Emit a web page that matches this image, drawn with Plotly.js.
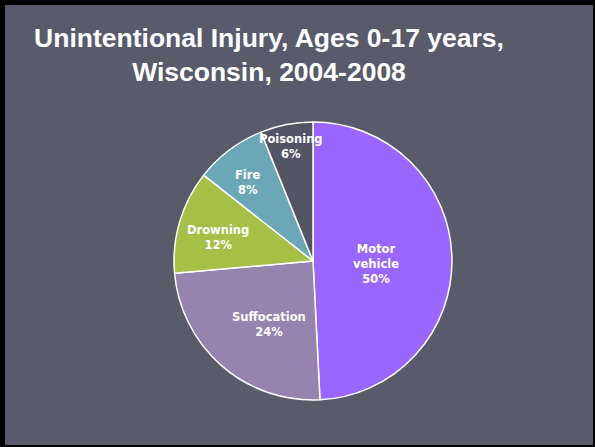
<!DOCTYPE html>
<html>
<head>
<meta charset="utf-8">
<script src="https://cdn.plot.ly/plotly-3.0.1.min.js"></script>
<style>
  html, body { margin: 0; padding: 0; background: #000; width: 595px; height: 447px; overflow: hidden; }
  #chart { position: absolute; left: 5px; top: 5px; width: 588px; height: 440px; }
</style>
</head>
<body>
<div id="chart"></div>
<script>
// Data
const categories = ["Motor<br>vehicle", "Suffocation", "Drowning", "Fire", "Poisoning"];
const shares = [49.2, 24.4, 12.0, 8.3, 6.1];
const shownPercent = ["50%", "24%", "12%", "8%", "6%"];

// Styles
const sliceColors = ["#9966ff", "#9484ae", "#a6bf45", "#6ba7b7", "#545564"];
const labelRadiusFrac = [0.45, 0.54, 0.71, 0.75, 0.84];
const labelShiftX = [0, 5, 0, -3, 0];
const labelShiftY = [-5, -7, -5, -5, 0];

const W = 588, H = 440;
const pieDomainX = [0.2874, 0.7602];
const pieDomainY = [0.1023, 0.734];

// pie geometry in px (paper coordinates)
const dxPx = (pieDomainX[1] - pieDomainX[0]) * W;
const dyPx = (pieDomainY[1] - pieDomainY[0]) * H;
const rPx = Math.min(dxPx, dyPx) / 2;
const cxPx = (pieDomainX[0] + pieDomainX[1]) / 2 * W;
const cyPx = (pieDomainY[0] + pieDomainY[1]) / 2 * H; // from bottom

const total = shares.reduce((a, b) => a + b, 0);
let cum = 0;
const annotations = shares.map((v, i) => {
  const mid = (cum + v / 2) / total * 2 * Math.PI;
  cum += v;
  const r = rPx * labelRadiusFrac[i];
  return {
    xref: "paper", yref: "paper",
    x: (cxPx + r * Math.sin(mid)) / W,
    y: (cyPx + r * Math.cos(mid)) / H,
    xshift: labelShiftX[i], yshift: labelShiftY[i],
    xanchor: "center", yanchor: "middle",
    showarrow: false,
    align: "center",
    text: "<b>" + categories[i] + "<br>" + shownPercent[i] + "</b>",
    font: { family: "DejaVu Sans", size: 11.5, color: "#ffffff" }
  };
});

const trace = {
  type: "pie",
  labels: categories,
  values: shares,
  sort: false,
  direction: "clockwise",
  rotation: 0,
  textinfo: "none",
  hoverinfo: "label+percent",
  marker: { colors: sliceColors, line: { color: "#ffffff", width: 1.5 } },
  domain: { x: pieDomainX, y: pieDomainY },
  showlegend: false
};

const layout = {
  width: W, height: H,
  margin: { l: 0, r: 0, t: 0, b: 0 },
  paper_bgcolor: "#595a6a",
  plot_bgcolor: "#595a6a",
  showlegend: false,
  title: {
    text: "<b>Unintentional Injury, Ages 0-17 years,<br>Wisconsin, 2004-2008</b>",
    font: { family: "Liberation Sans, Arial, sans-serif", size: 26.5, color: "#ffffff" },
    xref: "container", yref: "container",
    x: 264 / W, xanchor: "center",
    y: 1 - 42 / H, yanchor: "top"
  },
  annotations: annotations
};

Plotly.newPlot("chart", [trace], layout, { displayModeBar: false, staticPlot: true });
</script>
</body>
</html>
